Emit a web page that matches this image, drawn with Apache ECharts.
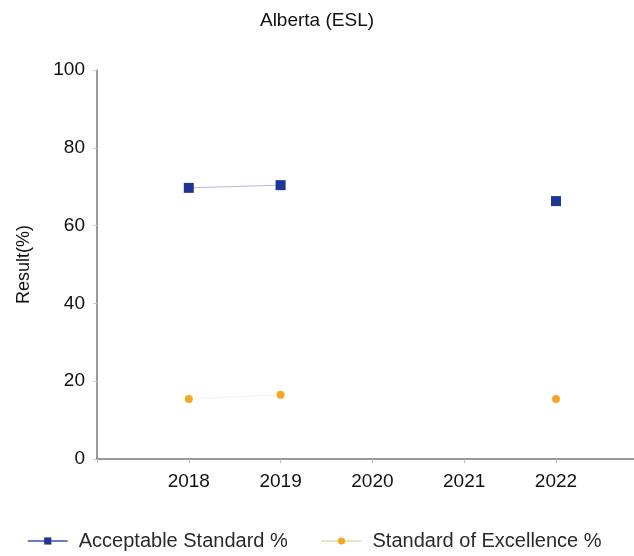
<!DOCTYPE html>
<html>
<head>
<meta charset="utf-8">
<script src="https://cdn.jsdelivr.net/npm/echarts@6/dist/echarts.min.js"></script>
<style>
  html, body { margin: 0; padding: 0; background: #fff; }
  #chart { width: 634px; height: 556px; }
</style>
</head>
<body>
<div id="chart"></div>
<script>
// Survey years and results (percent of students)
const years = [2018, 2019, 2020, 2021, 2022];
const acceptableStandard = [69.7, 70.4, null, null, 66.3];
const standardOfExcellence = [15.4, 16.5, null, null, 15.4];
const yTicks = [0, 20, 40, 60, 80, 100];

const pairs = (vals) => years.map((y, i) => [y, vals[i]]);

const chart = echarts.init(document.getElementById('chart'));
const font = '"Liberation Sans", Arial, sans-serif';

chart.setOption({
  animation: false,
  backgroundColor: '#ffffff',
  title: {
    text: 'Alberta (ESL)',
    left: 'center',
    top: 6,
    textStyle: { fontFamily: font, fontSize: 19, fontWeight: 'normal', color: '#111' }
  },
  grid: { left: 97, right: 0, top: 70, bottom: 97, containLabel: false },
  legend: {
    bottom: 0,
    left: 22,
    itemWidth: 40,
    itemHeight: 9,
    itemGap: 33,
    textStyle: { fontFamily: font, fontSize: 20, color: '#2a2a2a', padding: [0, 0, 0, 6] },
    data: [
      { name: 'Acceptable Standard %', lineStyle: { color: '#3a52ad', width: 1.5 } },
      { name: 'Standard of Excellence %', lineStyle: { color: '#dcdfaa', width: 1.5 } }
    ]
  },
  xAxis: {
    type: 'value',
    min: 2017,
    max: 2022.85,
    interval: 1,
    splitLine: { show: false },
    axisLine: { lineStyle: { color: '#777', width: 1.5 } },
    axisTick: { show: true, length: 4, inside: false, lineStyle: { color: '#bbb' } },
    axisLabel: {
      fontFamily: font, fontSize: 19, color: '#111', margin: 13,
      showMaxLabel: false,
      formatter: (v) => (years.includes(v) ? String(v) : '')
    }
  },
  yAxis: {
    type: 'value',
    min: yTicks[0],
    max: yTicks[yTicks.length - 1],
    interval: 20,
    name: 'Result(%)',
    nameLocation: 'middle',
    nameGap: 64,
    nameRotate: 90,
    nameTextStyle: { fontFamily: font, fontSize: 18, color: '#111' },
    splitLine: { show: false },
    axisLine: { show: true, lineStyle: { color: '#777', width: 1.5 } },
    axisTick: { show: true, length: 4, lineStyle: { color: '#ccc' } },
    axisLabel: { fontFamily: font, fontSize: 19, color: '#111', margin: 12 }
  },
  series: [
    {
      name: 'Acceptable Standard %',
      type: 'line',
      data: pairs(acceptableStandard),
      connectNulls: false,
      symbol: 'rect',
      symbolSize: 10,
      lineStyle: { color: '#b4badc', width: 1 },
      itemStyle: { color: '#1f3594' }
    },
    {
      name: 'Standard of Excellence %',
      type: 'line',
      data: pairs(standardOfExcellence),
      connectNulls: false,
      symbol: 'circle',
      symbolSize: 8,
      lineStyle: { color: '#f6f4e2', width: 1 },
      itemStyle: { color: '#f5a623' }
    }
  ]
});
</script>
</body>
</html>
